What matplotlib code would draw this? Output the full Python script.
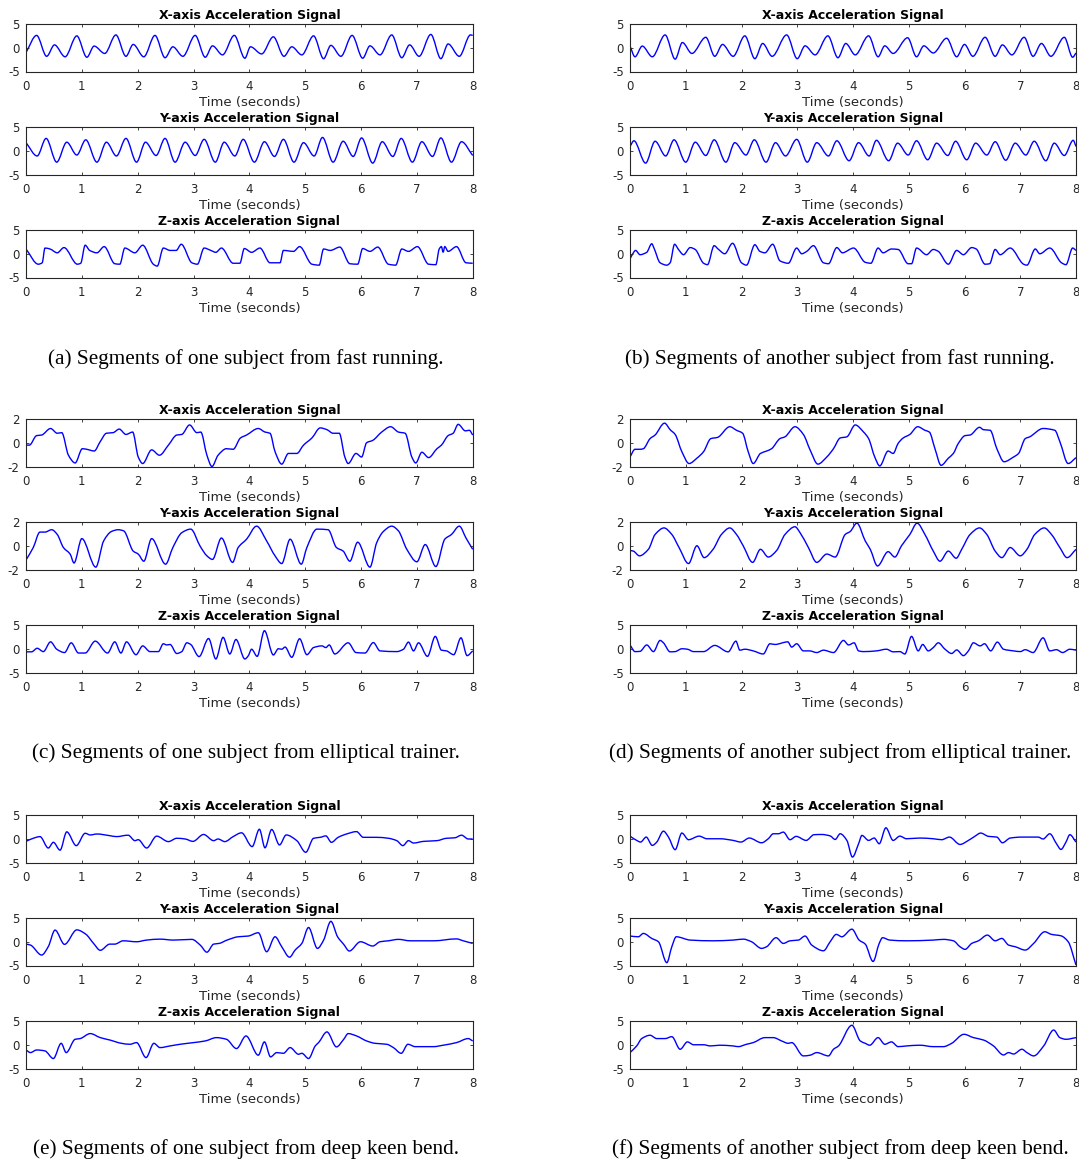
import numpy as np
import matplotlib
matplotlib.use('Agg')
import matplotlib.pyplot as plt
from matplotlib.path import Path
from matplotlib.patches import PathPatch

# ---------------------------------------------------------------------------
# Acceleration segments: (time [s], acceleration) pairs,
# mostly at peaks / troughs / shoulders of each trace.
# ---------------------------------------------------------------------------

# (a) fast running, subject 1
run1_x = [(0.00, -1.0), (0.19, 2.6), (0.37, -1.8), (0.51, 0.6), (0.70, -1.9), (0.91, 2.5), (1.09, -2.0),
          (1.22, 0.35), (1.41, -1.2), (1.61, 2.7), (1.79, -1.8), (1.92, 0.7), (2.11, -1.9), (2.31, 2.6),
          (2.49, -2.1), (2.63, 0.2), (2.81, -1.8), (3.03, 2.6), (3.21, -2.0), (3.34, 0.4), (3.52, -1.5),
          (3.73, 2.6), (3.92, -2.2), (4.02, 0.2), (4.22, -1.3), (4.43, 2.3), (4.62, -1.8), (4.76, 0.2),
          (4.94, -1.5), (5.15, 2.5), (5.33, -2.3), (5.46, 0.5), (5.64, -1.8), (5.84, 2.6), (6.03, -2.2),
          (6.16, 0.4), (6.34, -1.5), (6.55, 2.7), (6.73, -2.1), (6.87, 0.6), (7.04, -1.8), (7.25, 2.8),
          (7.43, -2.3), (7.56, 0.8), (7.76, -1.8), (7.96, 2.7), (8.00, 2.6)]
run1_y = [(0.00, 1.7), (0.20, -1.1), (0.36, 2.6), (0.55, -2.4), (0.73, 1.8), (0.91, -0.9), (1.07, 2.3),
          (1.27, -2.4), (1.44, 1.8), (1.62, -1.1), (1.79, 2.6), (1.98, -2.4), (2.14, 1.8), (2.33, -1.0),
          (2.49, 2.6), (2.67, -2.4), (2.85, 1.8), (3.03, -1.0), (3.19, 2.4), (3.39, -2.4), (3.55, 1.8),
          (3.74, -1.1), (3.89, 2.4), (4.09, -2.4), (4.27, 1.9), (4.45, -1.2), (4.61, 2.4), (4.80, -2.4),
          (4.97, 1.7), (5.16, -1.1), (5.31, 2.8), (5.50, -2.4), (5.68, 2.0), (5.86, -1.2), (6.01, 2.7),
          (6.21, -2.6), (6.38, 1.9), (6.57, -1.2), (6.72, 2.6), (6.92, -2.4), (7.09, 1.9), (7.28, -1.2),
          (7.43, 2.7), (7.62, -2.4), (7.80, 1.9), (8.00, -1.0)]
run1_z = [(0.00, 1.0), (0.22, -2.2), (0.29, -1.9), (0.34, 1.2), (0.43, 1.0), (0.56, 0.2), (0.68, 1.3),
          (0.92, -2.2), (0.98, -2.0), (1.06, 1.8), (1.14, 0.7), (1.27, 0.2), (1.40, 1.5), (1.59, -2.1),
          (1.68, -2.2), (1.77, 1.2), (1.95, 0.2), (2.09, 1.8), (2.28, -2.2), (2.35, -2.6), (2.46, 1.2),
          (2.58, 0.7), (2.69, 0.7), (2.78, 2.0), (2.97, -1.9), (3.07, -2.2), (3.19, 1.2), (3.31, 0.7),
          (3.40, 0.3), (3.50, 1.2), (3.71, -2.0), (3.83, -2.0), (3.91, 1.1), (4.04, 0.3), (4.19, 1.2),
          (4.37, -1.9), (4.55, -1.9), (4.61, 0.7), (4.79, 0.5), (4.90, 1.5), (5.12, -2.2), (5.25, -2.4),
          (5.33, 1.0), (5.45, 0.7), (5.62, 1.4), (5.80, -2.1), (5.94, -2.2), (6.03, 1.1), (6.16, 0.5),
          (6.30, 1.4), (6.49, -2.2), (6.62, -2.4), (6.73, 1.0), (6.85, 0.5), (7.01, 1.5), (7.21, -2.2),
          (7.34, -2.3), (7.40, 1.0), (7.44, 1.5), (7.47, 0.3), (7.50, 1.5), (7.56, 0.5), (7.71, 1.5),
          (7.88, -1.9), (8.00, -2.0)]

# (b) fast running, subject 2
run2_x = [(0.00, 0.35), (0.09, -1.9), (0.22, 0.35), (0.40, -1.9), (0.63, 2.7), (0.81, -2.4), (0.94, 1.1),
          (1.11, -1.2), (1.36, 2.2), (1.52, -1.8), (1.66, 0.7), (1.85, -1.8), (2.06, 2.5), (2.24, -2.3),
          (2.38, 0.9), (2.55, -1.8), (2.81, 2.7), (3.00, -2.3), (3.14, 0.4), (3.32, -1.5), (3.55, 2.5),
          (3.73, -2.1), (3.87, 0.9), (4.04, -1.5), (4.28, 2.5), (4.45, -1.9), (4.57, 0.4), (4.72, -1.2),
          (4.98, 2.1), (5.14, -1.9), (5.27, 0.4), (5.44, -1.1), (5.68, 2.0), (5.86, -1.9), (6.00, 0.7),
          (6.15, -1.8), (6.37, 2.2), (6.55, -1.8), (6.68, 0.6), (6.85, -1.5), (7.07, 2.2), (7.23, -1.8),
          (7.38, 0.9), (7.55, -1.8), (7.79, 2.2), (7.94, -2.0), (8.00, -1.1)]
run2_y = [(0.00, 0.9), (0.07, 2.1), (0.28, -2.6), (0.45, 2.0), (0.64, -1.1), (0.79, 2.3), (1.00, -2.4),
          (1.17, 1.8), (1.36, -1.0), (1.51, 2.3), (1.72, -2.4), (1.88, 1.7), (2.08, -0.9), (2.23, 2.3),
          (2.44, -2.4), (2.61, 1.7), (2.79, -1.1), (2.99, 2.4), (3.18, -2.4), (3.35, 1.7), (3.56, -1.1),
          (3.71, 2.1), (3.93, -2.1), (4.10, 1.7), (4.29, -1.1), (4.42, 2.2), (4.64, -2.1), (4.80, 1.6),
          (4.99, -0.9), (5.14, 2.1), (5.34, -1.9), (5.50, 1.6), (5.70, -1.0), (5.84, 2.0), (6.04, -1.9),
          (6.20, 1.6), (6.40, -0.9), (6.55, 1.9), (6.74, -2.0), (6.91, 1.6), (7.10, -0.9), (7.25, 2.0),
          (7.46, -2.1), (7.61, 1.6), (7.79, -1.0), (7.95, 2.2), (8.00, 0.9)]
run2_z = [(0.00, -1.1), (0.04, -0.2), (0.10, 0.7), (0.18, -0.2), (0.30, 0.3), (0.39, 2.1), (0.43, 1.2),
          (0.54, -1.9), (0.66, -2.4), (0.72, -1.9), (0.80, 2.0), (0.87, 0.9), (0.96, -0.2), (1.08, 1.3),
          (1.17, 0.9), (1.32, -2.0), (1.39, -2.3), (1.51, 1.7), (1.58, 1.0), (1.70, 0.0), (1.84, 2.2),
          (2.00, -1.9), (2.09, -2.4), (2.24, 1.9), (2.33, 0.5), (2.42, 0.2), (2.56, 2.0), (2.69, -1.5),
          (2.84, -2.0), (2.99, 1.2), (3.08, 0.0), (3.17, 0.5), (3.29, 1.7), (3.47, -1.9), (3.56, -2.1),
          (3.71, 1.3), (3.81, 0.2), (4.01, 1.2), (4.22, -1.8), (4.32, -2.0), (4.45, 1.2), (4.54, 0.2),
          (4.69, 1.0), (4.81, 0.9), (4.99, -2.1), (5.05, -2.1), (5.14, 1.2), (5.32, -0.2), (5.44, 0.9),
          (5.53, 0.5), (5.71, -2.2), (5.86, 0.7), (5.98, -0.2), (6.13, 1.3), (6.21, 1.0), (6.37, -2.2),
          (6.45, -2.1), (6.55, 0.9), (6.64, -0.2), (6.82, 1.2), (7.06, -2.2), (7.12, -2.4), (7.27, 1.0),
          (7.35, 0.0), (7.53, 1.2), (7.74, -1.9), (7.82, -2.3), (7.94, 1.2), (8.00, 0.7)]

# (c) elliptical trainer, subject 1
ell1_x = [(0.00, -0.2), (0.06, -0.2), (0.19, 0.6), (0.28, 0.65), (0.44, 1.2), (0.56, 0.8), (0.64, 0.85),
          (0.76, -1.05), (0.88, -1.7), (1.01, -0.5), (1.13, -0.6), (1.22, -0.7), (1.33, 0.1), (1.44, 0.8),
          (1.56, 0.85), (1.67, 1.15), (1.79, 0.7), (1.91, 0.9), (2.01, -1.2), (2.09, -1.75), (2.25, -0.6),
          (2.39, -1.05), (2.55, -0.2), (2.70, 0.65), (2.79, 0.7), (2.93, 1.5), (3.06, 0.85), (3.13, 0.9),
          (3.24, -1.05), (3.33, -2.0), (3.44, -1.05), (3.59, -0.5), (3.71, -0.55), (3.84, 0.4), (3.95, 0.65),
          (4.16, 1.2), (4.28, 0.9), (4.37, 0.8), (4.46, -0.75), (4.58, -1.8), (4.70, -0.9), (4.85, -0.9),
          (4.97, -0.2), (5.12, 0.4), (5.27, 1.25), (5.39, 1.1), (5.50, 0.8), (5.61, 0.8), (5.71, -1.2),
          (5.77, -1.75), (5.91, -0.9), (6.01, -1.2), (6.10, 0.0), (6.21, 0.2), (6.37, 0.9), (6.53, 1.35),
          (6.67, 0.9), (6.79, 0.8), (6.91, -1.2), (6.98, -1.7), (7.09, -0.8), (7.21, -1.25), (7.36, -0.5),
          (7.44, -0.2), (7.56, 0.6), (7.65, 0.8), (7.74, 1.55), (7.87, 1.0), (7.94, 1.05), (8.00, 0.65)]
ell1_y = [(0.00, -1.2), (0.13, -0.15), (0.25, 1.15), (0.34, 1.15), (0.46, 1.35), (0.56, 0.95), (0.67, -0.15),
          (0.79, -0.7), (0.86, -1.45), (1.00, 0.6), (1.25, -1.8), (1.39, 0.4), (1.53, 1.2), (1.65, 1.35),
          (1.75, 1.25), (1.92, -0.45), (2.01, -0.7), (2.11, -1.3), (2.25, 0.6), (2.50, -1.55), (2.63, -0.15),
          (2.79, 1.1), (2.95, 1.4), (3.12, -0.05), (3.24, -0.85), (3.34, -1.15), (3.50, 0.65), (3.70, -1.4),
          (3.80, -0.15), (3.95, 0.55), (4.13, 1.65), (4.31, 0.4), (4.46, -0.85), (4.58, -1.5), (4.73, 0.55),
          (4.93, -1.55), (5.03, -0.15), (5.21, 1.4), (5.41, 1.35), (5.56, -0.15), (5.68, -0.45), (5.80, -1.3),
          (5.94, 0.3), (6.16, -1.8), (6.28, 0.25), (6.40, 1.2), (6.55, 1.65), (6.67, 1.25), (6.82, -0.3),
          (7.00, -1.35), (7.15, 0.1), (7.34, -1.75), (7.50, 0.55), (7.62, 0.95), (7.76, 1.65), (7.88, 0.65),
          (8.00, -0.3)]
ell1_z = [(0.00, -0.65), (0.10, -0.65), (0.20, 0.1), (0.31, -0.6), (0.44, 1.45), (0.55, -0.1), (0.69, -0.8),
          (0.81, 1.25), (0.94, -0.9), (1.06, -0.9), (1.24, 1.6), (1.46, -0.9), (1.59, 1.45), (1.70, -0.9),
          (1.80, 1.45), (1.97, -1.25), (2.09, 0.6), (2.22, -0.6), (2.37, -0.6), (2.46, 1.05), (2.52, 0.8),
          (2.58, 0.9), (2.70, -1.0), (2.79, -0.6), (2.88, 1.25), (2.95, 0.9), (3.10, -1.65), (3.27, 2.15),
          (3.40, -2.15), (3.53, 2.4), (3.65, -1.1), (3.76, 1.95), (3.92, -2.15), (3.98, -1.5), (4.04, -0.1),
          (4.14, -1.6), (4.27, 3.8), (4.43, -1.3), (4.52, 0.0), (4.58, -0.1), (4.64, 0.35), (4.76, -1.8),
          (4.90, 2.1), (5.03, -1.25), (5.15, 0.25), (5.30, 0.6), (5.37, 0.25), (5.43, 0.8), (5.53, -1.1),
          (5.77, 1.25), (5.91, -0.8), (6.07, -0.9), (6.22, 1.3), (6.34, -0.45), (6.64, -0.6), (6.76, -0.1),
          (6.85, 1.4), (6.94, -0.45), (7.03, 1.25), (7.19, -1.6), (7.33, 2.6), (7.44, -0.3), (7.53, -0.45),
          (7.66, -1.25), (7.79, 2.3), (7.90, -1.45), (8.00, -0.45)]

# (d) elliptical trainer, subject 2
ell2_x = [(0.00, -1.2), (0.09, -0.55), (0.18, -0.55), (0.24, -0.5), (0.36, 0.35), (0.45, 0.65), (0.62, 1.65),
          (0.72, 1.1), (0.81, 0.7), (0.93, -0.75), (1.06, -1.75), (1.20, -1.3), (1.32, -0.75), (1.45, 0.35),
          (1.57, 0.45), (1.79, 1.35), (1.91, 1.05), (2.02, 0.8), (2.12, -0.75), (2.21, -1.75), (2.34, -0.9),
          (2.45, -0.7), (2.54, -0.5), (2.69, 0.35), (2.78, 0.5), (2.96, 1.35), (3.11, 0.7), (3.23, -0.6),
          (3.37, -1.8), (3.53, -1.2), (3.65, -0.5), (3.77, 0.4), (3.89, 0.5), (4.04, 1.5), (4.19, 0.9),
          (4.28, 0.35), (4.39, -1.2), (4.48, -1.95), (4.63, -0.7), (4.72, -0.9), (4.81, -0.05), (4.90, 0.4),
          (5.02, 0.7), (5.16, 1.35), (5.29, 1.05), (5.37, 0.9), (5.47, -0.5), (5.58, -1.9), (5.71, -1.3),
          (5.80, -0.9), (5.89, -0.05), (6.01, 0.6), (6.10, 0.65), (6.27, 1.3), (6.34, 1.1), (6.46, 1.05),
          (6.58, -0.5), (6.71, -1.6), (6.88, -1.2), (6.97, -0.9), (7.09, 0.35), (7.17, 0.5), (7.41, 1.2),
          (7.62, 1.05), (7.71, 0.1), (7.86, -1.75), (8.00, -1.25)]
ell2_y = [(0.00, -0.4), (0.06, -0.45), (0.17, -0.85), (0.33, -0.3), (0.45, 0.95), (0.61, 1.5), (0.75, 0.95),
          (0.88, -0.15), (1.05, -1.5), (1.20, 0.0), (1.33, -1.0), (1.49, -0.3), (1.64, 0.95), (1.79, 1.5),
          (1.91, 0.95), (2.03, 0.0), (2.20, -1.4), (2.34, -0.3), (2.48, -0.95), (2.63, -0.4), (2.78, 0.95),
          (2.96, 1.6), (3.05, 1.1), (3.20, -0.15), (3.35, -1.4), (3.53, -0.7), (3.68, -0.95), (3.86, 0.95),
          (3.95, 1.2), (4.07, 1.9), (4.22, 0.4), (4.31, -0.3), (4.44, -1.7), (4.63, -0.5), (4.75, -0.95),
          (4.87, 0.0), (5.02, 0.95), (5.15, 1.9), (5.29, 0.95), (5.44, -0.45), (5.56, -1.3), (5.71, -0.45),
          (5.85, -1.05), (5.95, -0.3), (6.10, 0.95), (6.27, 1.5), (6.40, 0.95), (6.55, -0.45), (6.67, -1.0),
          (6.82, -0.15), (7.00, -0.85), (7.12, -0.3), (7.26, 0.95), (7.43, 1.5), (7.56, 0.95), (7.71, -0.15),
          (7.84, -1.0), (8.00, -0.3)]
ell2_z = [(0.00, 0.8), (0.09, -0.6), (0.18, -0.55), (0.30, 0.8), (0.42, -0.6), (0.54, 1.75), (0.60, 1.25),
          (0.72, -0.65), (0.81, -0.6), (0.93, 0.0), (1.03, -0.1), (1.14, -0.6), (1.32, -0.6), (1.52, 0.7),
          (1.76, -0.65), (1.90, 1.6), (1.97, -0.3), (2.06, -0.1), (2.21, -0.45), (2.39, -1.1), (2.51, 1.05),
          (2.60, 0.9), (2.83, 1.45), (2.90, 0.35), (2.99, 1.05), (3.11, -0.45), (3.22, -0.45), (3.35, -0.8),
          (3.47, -0.3), (3.65, -0.8), (3.83, 1.75), (3.92, 0.8), (4.02, 1.25), (4.10, -0.45), (4.19, -0.6),
          (4.42, -0.45), (4.60, -0.1), (4.72, -0.65), (4.84, -0.6), (4.93, -1.1), (5.05, 2.6), (5.17, -0.45),
          (5.25, 0.9), (5.35, -0.45), (5.44, 0.25), (5.53, 1.25), (5.65, -0.1), (5.77, -1.0), (5.86, -0.25),
          (5.98, -1.45), (6.07, -0.45), (6.16, 1.25), (6.28, 0.6), (6.36, 1.05), (6.47, -0.45), (6.59, 1.4),
          (6.70, -0.1), (6.88, -0.45), (7.00, -0.6), (7.09, -0.2), (7.23, -0.8), (7.41, 2.3), (7.53, -0.45),
          (7.65, -0.2), (7.76, -0.8), (7.89, -0.1), (8.00, -0.3)]

# (e) deep knee bend, subject 1
bend1_x = [(0.00, -0.55), (0.13, 0.1), (0.25, 0.45), (0.40, -1.95), (0.49, -0.75), (0.61, -2.4), (0.73, 1.45),
           (0.90, -1.45), (1.06, 1.15), (1.15, 0.8), (1.27, 1.0), (1.50, 0.65), (1.62, 0.45), (1.83, 0.75),
           (1.95, -0.4), (2.01, -0.2), (2.16, -1.95), (2.34, 0.55), (2.55, -0.6), (2.70, 0.1), (2.85, -0.05),
           (2.99, -0.55), (3.18, 0.9), (3.36, -0.4), (3.44, -0.05), (3.56, -0.6), (3.71, 0.45), (3.86, 1.25),
           (4.05, -1.65), (4.18, 2.0), (4.28, -1.9), (4.40, 1.95), (4.54, -1.3), (4.66, 0.8), (4.85, -0.4),
           (5.01, -2.85), (5.15, 0.1), (5.27, 0.3), (5.37, 0.6), (5.47, -0.75), (5.59, 0.3), (5.74, 1.0),
           (5.92, 1.5), (6.04, 0.3), (6.28, 0.3), (6.49, 0.1), (6.64, -0.4), (6.75, -1.45), (6.85, -0.4),
           (6.94, -0.9), (7.12, -0.55), (7.36, -0.4), (7.53, 0.1), (7.68, 0.2), (7.80, 0.75), (7.92, -0.05),
           (8.00, -0.05)]
bend1_y = [(0.00, -0.5), (0.08, -0.7), (0.28, -2.8), (0.40, -1.0), (0.52, 2.45), (0.69, -0.55), (0.91, 2.5),
           (1.07, 1.6), (1.21, -0.35), (1.33, -1.8), (1.50, -0.5), (1.59, -0.5), (1.74, 0.2), (1.98, 0.0),
           (2.16, 0.35), (2.40, 0.55), (2.64, 0.35), (2.97, 0.5), (3.12, -0.7), (3.24, -2.2), (3.36, -0.5),
           (3.46, -0.35), (3.60, 0.35), (3.80, 1.05), (3.98, 1.2), (4.16, 1.9), (4.31, -2.1), (4.46, 1.05),
           (4.58, -1.05), (4.72, -3.25), (4.82, -1.75), (4.94, -0.35), (5.06, 3.0), (5.22, -1.4), (5.33, 0.35),
           (5.46, 4.3), (5.58, 1.05), (5.69, -0.55), (5.79, -1.95), (5.99, 0.0), (6.21, -0.9), (6.34, 0.0),
           (6.49, 0.2), (6.67, 0.5), (6.88, 0.2), (7.30, 0.2), (7.71, 0.6), (7.83, 0.2), (8.00, -0.35)]
bend1_z = [(0.00, -1.1), (0.08, -1.65), (0.19, -1.1), (0.34, -1.3), (0.49, -2.9), (0.63, 0.3), (0.72, -1.65),
           (0.88, 1.15), (0.97, 1.3), (1.15, 2.35), (1.33, 1.5), (1.50, 1.0), (1.71, 0.3), (1.86, 0.1),
           (1.98, 0.45), (2.15, -2.7), (2.29, 0.3), (2.40, -0.6), (2.58, -0.25), (2.76, 0.1), (3.00, 0.45),
           (3.21, 0.8), (3.41, 1.5), (3.59, 1.15), (3.77, -0.8), (3.94, 1.85), (4.16, -2.2), (4.27, 0.6),
           (4.38, -2.55), (4.49, -1.65), (4.61, -1.8), (4.73, -0.6), (4.88, -2.0), (4.94, -1.8), (5.06, -2.9),
           (5.18, -0.25), (5.24, 0.45), (5.39, 2.7), (5.56, -0.45), (5.69, 1.15), (5.77, 2.35), (5.92, 1.85),
           (6.10, 0.8), (6.25, 0.3), (6.46, 0.1), (6.58, -0.6), (6.72, -1.8), (6.84, 0.1), (6.97, -0.4),
           (7.30, -0.4), (7.47, -0.1), (7.71, 0.45), (7.92, 1.3), (8.00, 0.8)]

# (f) deep knee bend, subject 2
bend2_x = [(0.00, 0.55), (0.12, -0.35), (0.19, -0.7), (0.29, 0.35), (0.40, -1.4), (0.48, -0.7), (0.60, 1.6),
           (0.69, 0.35), (0.81, -2.3), (0.93, 1.2), (1.05, -0.2), (1.24, 0.55), (1.38, 0.0), (1.61, 0.0),
           (1.85, -0.35), (1.99, -0.7), (2.14, 0.15), (2.36, -0.85), (2.48, 0.0), (2.57, 1.05), (2.66, 1.05),
           (2.75, 1.4), (2.87, -0.2), (2.98, 0.5), (3.16, -0.35), (3.30, 0.85), (3.44, 0.9), (3.59, 0.6),
           (3.68, -0.15), (3.77, 1.05), (3.89, -0.35), (3.99, -3.85), (4.10, -1.05), (4.16, 0.7), (4.28, -0.35),
           (4.38, 0.15), (4.47, -1.05), (4.59, 2.3), (4.72, -0.35), (4.84, 0.55), (4.96, 0.0), (5.20, 0.15),
           (5.44, 0.0), (5.59, -0.2), (5.73, 0.35), (5.92, -1.2), (6.07, -0.35), (6.19, 0.55), (6.29, 1.2),
           (6.43, 0.5), (6.58, 0.35), (6.68, -0.85), (6.82, 0.15), (7.03, 0.35), (7.32, 0.35), (7.41, -0.05),
           (7.53, 1.05), (7.65, -1.05), (7.73, -2.25), (7.82, -0.7), (7.89, 0.85), (8.00, -0.7)]
bend2_y = [(0.00, 1.2), (0.15, 1.05), (0.24, 1.75), (0.39, 0.7), (0.51, 0.0), (0.66, -4.4), (0.75, -1.05),
           (0.83, 1.05), (1.08, 0.35), (1.49, 0.2), (1.85, 0.35), (2.03, 0.55), (2.18, 0.0), (2.36, -1.4),
           (2.45, -1.05), (2.62, 0.85), (2.75, -0.35), (2.87, 0.2), (3.02, 0.35), (3.14, 1.2), (3.26, -0.7),
           (3.47, -1.9), (3.59, 0.0), (3.70, 1.55), (3.80, 1.05), (3.98, 2.65), (4.11, 0.35), (4.22, -0.5),
           (4.36, -4.15), (4.47, -0.35), (4.53, 0.85), (4.66, 0.35), (4.96, 0.2), (5.44, 0.35), (5.62, 0.5),
           (5.80, 0.2), (5.92, -1.05), (6.01, -1.6), (6.13, -0.35), (6.25, 0.2), (6.41, 1.4), (6.55, 0.2),
           (6.67, 0.7), (6.79, -0.7), (6.91, -1.05), (7.09, -1.75), (7.24, -0.35), (7.44, 2.1), (7.56, 1.55),
           (7.73, 1.25), (7.86, 0.0), (8.00, -4.9)]
bend2_z = [(0.00, -1.65), (0.12, -0.25), (0.21, 1.3), (0.36, 2.0), (0.48, 1.3), (0.63, 1.3), (0.75, 1.7),
           (0.90, -0.95), (1.03, 0.6), (1.14, 0.0), (1.32, 0.0), (1.44, -0.25), (1.61, -0.1), (1.85, -0.25),
           (1.94, -0.4), (2.09, 0.1), (2.21, 0.45), (2.42, 1.5), (2.57, 1.5), (2.72, 0.8), (2.84, 0.3),
           (2.90, 0.45), (3.11, -2.35), (3.23, -2.2), (3.35, -1.65), (3.56, -2.35), (3.65, -0.95), (3.74, -0.25),
           (3.98, 4.1), (4.13, 0.8), (4.22, 0.3), (4.30, -0.1), (4.45, 1.5), (4.57, 0.1), (4.69, 0.6),
           (4.81, -0.4), (4.96, -0.25), (5.20, -0.1), (5.44, -0.4), (5.62, -0.4), (5.77, 0.3), (5.99, 2.2),
           (6.16, 1.5), (6.34, 1.0), (6.52, -0.25), (6.70, -2.15), (6.79, -1.65), (6.88, -1.95), (7.03, -0.95),
           (7.12, -1.65), (7.24, -2.35), (7.42, -0.25), (7.60, 3.1), (7.71, 1.5), (7.82, 1.15), (8.00, 1.5)]

axis_titles = ['X-axis Acceleration Signal', 'Y-axis Acceleration Signal', 'Z-axis Acceleration Signal']
x_ticks = [0, 1, 2, 3, 4, 5, 6, 7, 8]

captions = ['(a) Segments of one subject from fast running.',
            '(b) Segments of another subject from fast running.',
            '(c) Segments of one subject from elliptical trainer.',
            '(d) Segments of another subject from elliptical trainer.',
            '(e) Segments of one subject from deep keen bend.',
            '(f) Segments of another subject from deep keen bend.']

panel_series = [(run1_x, run1_y, run1_z), (run2_x, run2_y, run2_z),
                (ell1_x, ell1_y, ell1_z), (ell2_x, ell2_y, ell2_z),
                (bend1_x, bend1_y, bend1_z), (bend2_x, bend2_y, bend2_z)]
panel_ylim = [(5, 5, 5), (5, 5, 5), (2, 2, 5), (2, 2, 5), (5, 5, 5), (5, 5, 5)]


def smooth_path(pairs):
    # cubic Bezier through the read points, flat at peaks/troughs (no overshoot)
    t = np.array([p[0] for p in pairs])
    v = np.array([p[1] for p in pairs])
    d = np.diff(v) / np.diff(t)
    m = np.zeros_like(v)
    m[0], m[-1] = d[0], d[-1]
    for i in range(1, len(v) - 1):
        if d[i - 1] * d[i] > 0:
            m[i] = 2.0 / (1.0 / d[i - 1] + 1.0 / d[i])
    verts = [(t[0], v[0])]
    codes = [Path.MOVETO]
    for i in range(len(t) - 1):
        h = (t[i + 1] - t[i]) / 3.0
        verts += [(t[i] + h, v[i] + m[i] * h), (t[i + 1] - h, v[i + 1] - m[i + 1] * h), (t[i + 1], v[i + 1])]
        codes += [Path.CURVE4] * 3
    return Path(verts, codes)


plt.rcParams['font.family'] = 'DejaVu Sans'
plt.rcParams['axes.unicode_minus'] = False

W, H = 1079, 1163
fig = plt.figure(figsize=(W / 100, H / 100), dpi=100)

col_left = [26, 630]       # px
col_width = [446.7, 446]
row_top = [24, 419, 815]
sub_off = [0, 103, 206]
ax_h = 47.5
cap_y = [359, 753, 1149]
cap_x = [246, 840]
axis_col = '#262626'

for p, series in enumerate(panel_series):
    row, col = divmod(p, 2)
    for k in range(3):
        top = row_top[row] + sub_off[k]
        ax = fig.add_axes([col_left[col] / W, 1 - (top + ax_h) / H, col_width[col] / W, ax_h / H])
        ax.add_patch(PathPatch(smooth_path(series[k]), fill=False, edgecolor='#0000ff', lw=1.0))
        lim = panel_ylim[p][k]
        ax.set_xlim(0, 8)
        ax.set_ylim(-lim, lim)
        ax.set_xticks(x_ticks)
        ax.set_yticks([-lim, 0, lim])
        ax.tick_params(direction='in', top=True, right=True, length=2.5, width=0.6,
                       labelsize=8.5, colors=axis_col)
        ax.tick_params(axis='x', pad=6)
        ax.tick_params(axis='y', pad=4.5)
        for s in ax.spines.values():
            s.set_color(axis_col)
            s.set_linewidth(0.8)
        ax.set_title(axis_titles[k], fontsize=9, fontweight='bold', pad=3.5)
        ax.set_xlabel('Time (seconds)', fontsize=9.5, labelpad=2.5, color=axis_col)
    fig.text(cap_x[col] / W, 1 - cap_y[row] / H, captions[p], ha='center', va='center',
             family='Liberation Serif', fontsize=15.3)

fig.savefig('out.png', dpi=100)
